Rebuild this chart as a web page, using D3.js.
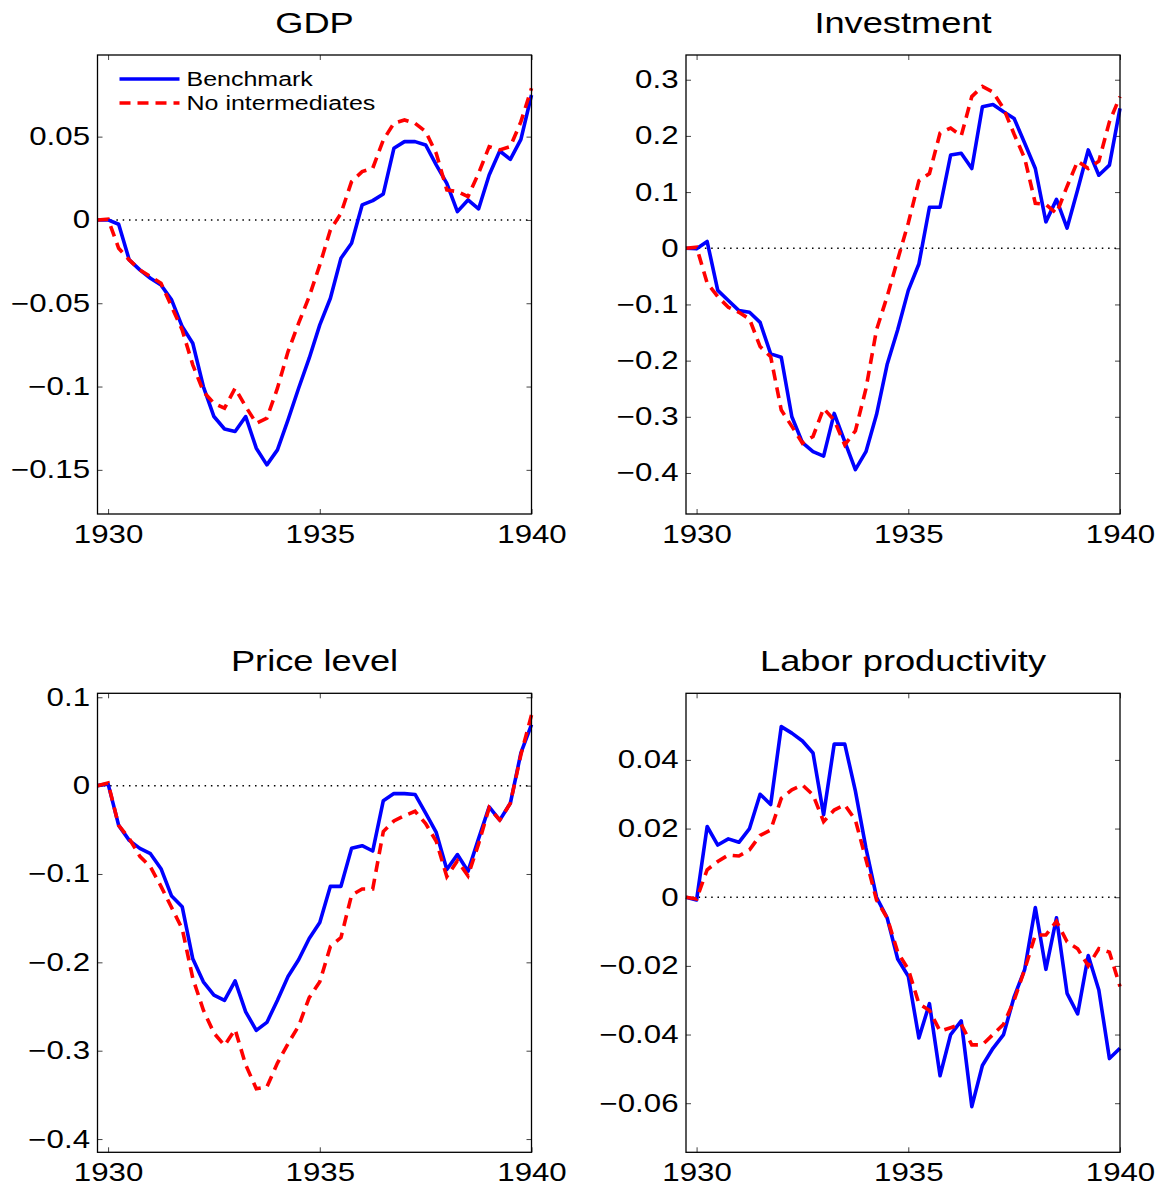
<!DOCTYPE html>
<html>
<head>
<meta charset="utf-8">
<script src="https://cdn.jsdelivr.net/npm/d3@7"></script>
<style>
  body { margin: 0; background: #fff; }
  svg { display: block; }
  text { font-family: "Liberation Sans", Arial, Helvetica, sans-serif; fill: #000; }
  .tick line { stroke: #444; }
</style>
</head>
<body>
<div id="chart"></div>
<script>
// quarterly dates, 1929Q4 .. 1940
var quarters = [1929.75, 1930, 1930.25, 1930.5, 1930.75, 1931, 1931.25, 1931.5, 1931.75,
    1932, 1932.25, 1932.5, 1932.75, 1933, 1933.25, 1933.5, 1933.75, 1934, 1934.25, 1934.5,
    1934.75, 1935, 1935.25, 1935.5, 1935.75, 1936, 1936.25, 1936.5, 1936.75, 1937, 1937.25,
    1937.5, 1937.75, 1938, 1938.25, 1938.5, 1938.75, 1939, 1939.25, 1939.5, 1939.75, 1940];

var seriesNames = ["Benchmark", "No intermediates"];
var yearTicks = [1930, 1935, 1940];

var gdpBench = [0, 0, -0.0026, -0.024, -0.030, -0.035, -0.039, -0.048, -0.064, -0.074,
    -0.100, -0.118, -0.1255, -0.127, -0.118, -0.137, -0.147, -0.138, -0.120, -0.101,
    -0.083, -0.063, -0.047, -0.023, -0.014, 0.009, 0.0116, 0.0156, 0.043, 0.047,
    0.047, 0.045, 0.033, 0.022, 0.005, 0.012, 0.0066, 0.027, 0.0414, 0.0364, 0.0484, 0.075];
var gdpNoInt = [0, 0.0005, -0.017, -0.024, -0.030, -0.034, -0.038, -0.052, -0.066, -0.087,
    -0.103, -0.110, -0.113, -0.101, -0.112, -0.122, -0.119, -0.101, -0.079, -0.062,
    -0.046, -0.027, -0.006, 0.004, 0.023, 0.029, 0.031, 0.048, 0.058, 0.060,
    0.058, 0.053, 0.040, 0.018, 0.017, 0.014, 0.028, 0.044, 0.042, 0.044, 0.059, 0.079];

var invBench = [0, -0.001, 0.012, -0.075, -0.093, -0.111, -0.114, -0.132, -0.188, -0.194,
    -0.300, -0.346, -0.362, -0.370, -0.294, -0.344, -0.394, -0.362, -0.296, -0.207,
    -0.145, -0.075, -0.028, 0.073, 0.073, 0.166, 0.169, 0.142, 0.252, 0.256,
    0.243, 0.231, 0.187, 0.142, 0.047, 0.087, 0.036, 0.104, 0.175, 0.130, 0.148, 0.249];
var invNoInt = [0, 0.002, -0.062, -0.086, -0.105, -0.114, -0.126, -0.175, -0.193, -0.288,
    -0.317, -0.347, -0.335, -0.285, -0.306, -0.350, -0.325, -0.250, -0.145, -0.086,
    -0.020, 0.045, 0.120, 0.133, 0.205, 0.214, 0.200, 0.270, 0.288, 0.278,
    0.249, 0.203, 0.160, 0.080, 0.078, 0.062, 0.110, 0.155, 0.142, 0.155, 0.225, 0.270];

var priceBench = [0, 0.002, -0.045, -0.062, -0.071, -0.077, -0.094, -0.125, -0.137, -0.196,
    -0.222, -0.237, -0.243, -0.221, -0.256, -0.277, -0.268, -0.243, -0.216, -0.197,
    -0.173, -0.155, -0.114, -0.114, -0.071, -0.068, -0.074, -0.017, -0.009, -0.009,
    -0.010, -0.031, -0.053, -0.095, -0.078, -0.097, -0.060, -0.024, -0.039, -0.020, 0.037, 0.069];
var priceNoInt = [0, 0.003, -0.045, -0.060, -0.080, -0.092, -0.114, -0.138, -0.162, -0.218,
    -0.254, -0.280, -0.294, -0.276, -0.316, -0.343, -0.341, -0.314, -0.292, -0.272,
    -0.240, -0.222, -0.182, -0.172, -0.124, -0.117, -0.117, -0.052, -0.040, -0.034,
    -0.029, -0.043, -0.063, -0.103, -0.085, -0.102, -0.066, -0.025, -0.039, -0.020, 0.035, 0.080];

var prodBench = [0, -0.0008, 0.0206, 0.0152, 0.017, 0.016, 0.020, 0.030, 0.027, 0.0497,
    0.0478, 0.0455, 0.042, 0.024, 0.0446, 0.0446, 0.031, 0.0143, 0.000, -0.006,
    -0.018, -0.023, -0.041, -0.031, -0.052, -0.040, -0.036, -0.061, -0.049, -0.044,
    -0.040, -0.029, -0.021, -0.003, -0.021, -0.006, -0.028, -0.034, -0.017, -0.027, -0.047, -0.044];
var prodNoInt = [0, -0.0005, 0.008, 0.0104, 0.0123, 0.012, 0.0138, 0.018, 0.0196, 0.0288,
    0.0313, 0.0327, 0.0298, 0.022, 0.0254, 0.0269, 0.0225, 0.011, -0.0008, -0.006,
    -0.016, -0.021, -0.031, -0.033, -0.039, -0.038, -0.037, -0.043, -0.043, -0.040,
    -0.037, -0.030, -0.021, -0.011, -0.011, -0.007, -0.013, -0.015, -0.020, -0.015, -0.016, -0.026];

var panels = [
    { title: "GDP", bench: gdpBench, noint: gdpNoInt,
      yDomain: [-0.1765, 0.099], yTicks: [-0.15, -0.1, -0.05, 0, 0.05],
      box: { x: 97.5, y: 55, w: 434, h: 459 }, legend: true },
    { title: "Investment", bench: invBench, noint: invNoInt,
      yDomain: [-0.473, 0.344], yTicks: [-0.4, -0.3, -0.2, -0.1, 0, 0.1, 0.2, 0.3],
      box: { x: 686, y: 55, w: 434, h: 459 } },
    { title: "Price level", bench: priceBench, noint: priceNoInt,
      yDomain: [-0.415, 0.1045], yTicks: [-0.4, -0.3, -0.2, -0.1, 0, 0.1],
      box: { x: 97.5, y: 693.3, w: 434, h: 459 } },
    { title: "Labor productivity", bench: prodBench, noint: prodNoInt,
      yDomain: [-0.0743, 0.0594], yTicks: [-0.06, -0.04, -0.02, 0, 0.02, 0.04],
      box: { x: 686, y: 693.3, w: 434, h: 459 } }
];

var width = 1169;
var height = 1191;
var stretch = 1.25; // the original lettering is wide

var svg = d3.select("#chart")
    .append("svg")
    .attr("width", width)
    .attr("height", height);

function fmt(d) {
    if (d === 0) return "0";
    return (d < 0 ? "\u2212" : "") + String(Math.abs(d));
}

// draw text wider, keeping its anchor point
function widen(sel) {
    sel.each(function () {
        var t = d3.select(this);
        var x = +t.attr("x") || 0;
        t.attr("x", x / stretch).attr("transform", "scale(" + stretch + ",1)");
    });
}

function label(parent, x, y, size, anchor, str) {
    return parent.append("text")
        .attr("transform", "translate(" + x + "," + y + ") scale(" + stretch + ",1)")
        .style("text-anchor", anchor)
        .style("font-size", size + "px")
        .text(str);
}

panels.forEach(function (p) {
    var b = p.box;
    var g = svg.append("g").attr("transform", "translate(" + b.x + "," + b.y + ")");

    var xScale = d3.scaleLinear().domain([1929.75, 1940]).range([0, b.w]);
    var yScale = d3.scaleLinear().domain(p.yDomain).range([b.h, 0]);

    // ticks inside the box on all four sides
    var left = d3.axisLeft(yScale).tickValues(p.yTicks).tickFormat(fmt)
        .tickSizeInner(-5).tickSizeOuter(0).tickPadding(7.5);
    var right = d3.axisRight(yScale).tickValues(p.yTicks).tickFormat("")
        .tickSizeInner(-5).tickSizeOuter(0);
    var bottom = d3.axisBottom(xScale).tickValues(yearTicks).tickFormat(d3.format("d"))
        .tickSizeInner(-5).tickSizeOuter(0).tickPadding(11);
    var top = d3.axisTop(xScale).tickValues(yearTicks).tickFormat("")
        .tickSizeInner(-5).tickSizeOuter(0);

    var axes = [
        g.append("g").call(left),
        g.append("g").attr("transform", "translate(" + b.w + ",0)").call(right),
        g.append("g").attr("transform", "translate(0," + b.h + ")").call(bottom),
        g.append("g").call(top)
    ];
    axes.forEach(function (a) {
        a.select(".domain").remove();
        a.selectAll("text").style("font-size", "25px").attr("fill", "#000").call(widen);
    });

    // zero line
    g.append("line")
        .attr("x1", 0).attr("x2", b.w)
        .attr("y1", yScale(0)).attr("y2", yScale(0))
        .attr("stroke", "#000").attr("stroke-width", 1.5)
        .attr("stroke-dasharray", "1.5,4.8");

    var line = d3.line()
        .x(function (d, i) { return xScale(quarters[i]); })
        .y(function (d) { return yScale(d); });

    g.append("path").datum(p.bench)
        .attr("d", line).attr("fill", "none")
        .attr("stroke", "#0000ff").attr("stroke-width", 3.6)
        .attr("stroke-linejoin", "round");

    g.append("path").datum(p.noint)
        .attr("d", line).attr("fill", "none")
        .attr("stroke", "#ff0000").attr("stroke-width", 3.6)
        .attr("stroke-dasharray", "11,7");

    // box
    g.append("rect")
        .attr("width", b.w).attr("height", b.h)
        .attr("fill", "none").attr("stroke", "#000").attr("stroke-width", 1.3);

    label(svg, b.x + b.w / 2, b.y - 22, 29, "middle", p.title);

    if (p.legend) {
        var lg = g.append("g").attr("transform", "translate(22,24)");
        lg.append("line").attr("x1", 0).attr("x2", 60).attr("y1", 0).attr("y2", 0)
            .attr("stroke", "#0000ff").attr("stroke-width", 3.6);
        lg.append("line").attr("x1", 0).attr("x2", 60).attr("y1", 24).attr("y2", 24)
            .attr("stroke", "#ff0000").attr("stroke-width", 3.6)
            .attr("stroke-dasharray", "11,7");
        label(lg, 67, 7, 20, "start", seriesNames[0]);
        label(lg, 67, 31, 20, "start", seriesNames[1]);
    }
});
</script>
</body>
</html>
